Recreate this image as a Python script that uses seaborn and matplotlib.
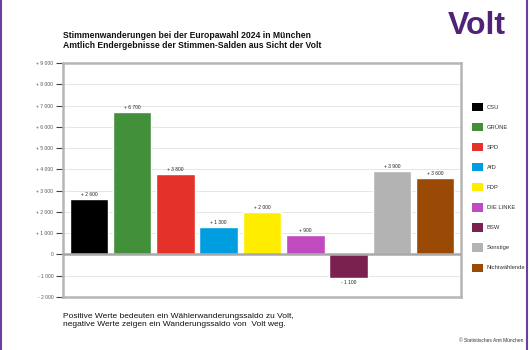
import matplotlib
matplotlib.use("Agg")
import matplotlib.pyplot as plt
import seaborn as sns
import pandas as pd
from matplotlib.patches import Patch
from matplotlib.lines import Line2D

parties = ["CSU", "GRÜNE", "SPD", "AfD", "FDP", "DIE LINKE", "BSW", "Sonstige", "Nichtwählende"]
saldo = [2600, 6700, 3800, 1300, 2000, 900, -1100, 3900, 3600]
colors = ["#000000", "#43903B", "#E4322B", "#009EE0", "#FFED00", "#C04AC0", "#7B2150", "#B3B3B3", "#9A4A05"]
yticks = [-2000, -1000, 0, 1000, 2000, 3000, 4000, 5000, 6000, 7000, 8000, 9000]

title1 = "Stimmenwanderungen bei der Europawahl 2024 in München"
title2 = "Amtlich Endergebnisse der Stimmen-Salden aus Sicht der Volt"
note = "Positive Werte bedeuten ein Wählerwanderungssaldo zu Volt,\nnegative Werte zeigen ein Wanderungssaldo von  Volt weg."
source = "© Statistisches Amt München"


def fmt(v):
    v = int(round(v))
    s = f"{abs(v):,}".replace(",", " ")
    if v > 0:
        return "+ " + s
    if v < 0:
        return "- " + s
    return "0"


sns.set_theme(style="white")
plt.rcParams["font.family"] = ["Liberation Sans", "DejaVu Sans"]

df = pd.DataFrame({"party": parties, "saldo": saldo})

fig = plt.figure(figsize=(5.3, 3.5), dpi=100)
fig.patch.set_facecolor("white")
ax = fig.add_axes([63 / 530, 1 - 297 / 350, (461 - 63) / 530, (297 - 63) / 350])

sns.barplot(data=df, x="party", y="saldo", hue="party", palette=colors,
            order=parties, hue_order=parties, legend=False, width=0.89,
            saturation=1, ax=ax, zorder=3)

ax.set_xlim(-0.6, 8.6)
ax.set_ylim(-2000, 9000)
ax.set_yticks(yticks)
ax.set_yticklabels([fmt(v) for v in yticks], fontsize=3.6, color="#555555")
ax.set_xticks([])
ax.set_xlabel("")
ax.set_ylabel("")
ax.yaxis.grid(True, color="#E6E6E6", linewidth=0.7, zorder=0)
ax.set_axisbelow(True)
ax.tick_params(axis="y", which="major", left=True, length=5, width=0.8, color="#444444", pad=2)
for sp in ax.spines.values():
    sp.set_visible(True)
    sp.set_color("#B5B5B5")
    sp.set_linewidth(1.8)
ax.axhline(0, color="#A8A8A8", linewidth=1.8, zorder=4)

for c in ax.containers:
    labels = [fmt(v) for v in c.datavalues]
    ax.bar_label(c, labels=labels, fontsize=3.5, padding=1.5, color="#222222")

# legend
handles = [Patch(facecolor=col, edgecolor="none") for col in colors]
leg = fig.legend(handles, parties, loc="upper left", bbox_to_anchor=(470 / 530, 1 - 101 / 350),
                 frameon=False, fontsize=4.2, handlelength=1.75, handleheight=1.75,
                 labelspacing=2.05, handletextpad=0.7, borderaxespad=0)
for t in leg.get_texts():
    t.set_color("#333333")

# titles
fig.text(63 / 530, 1 - 35 / 350, title1, fontsize=6.2, fontweight="bold", va="center", ha="left", color="#111111")
fig.text(63 / 530, 1 - 46 / 350, title2, fontsize=6.2, fontweight="bold", va="center", ha="left", color="#111111")

# Volt logo text
fig.text(477 / 530, 1 - 34 / 350, "Volt", fontsize=23, fontweight="heavy", color="#502379",
         ha="center", va="baseline", family="Liberation Sans")

fig.text(63 / 530, 1 - 320 / 350, note, fontsize=6.0, va="center", ha="left", color="#111111",
         linespacing=1.2)
fig.text(523 / 530, 1 - 340 / 350, source, fontsize=3.5, va="center", ha="right", color="#333333")

# purple frame lines
fig.add_artist(Line2D([1 / 530, 1 / 530], [0, 1], color="#6A3FA0", linewidth=1.5, transform=fig.transFigure))
fig.add_artist(Line2D([527 / 530, 527 / 530], [0, 1], color="#6A3FA0", linewidth=1.5, transform=fig.transFigure))

fig.savefig("out.png", dpi=100, facecolor="white")
